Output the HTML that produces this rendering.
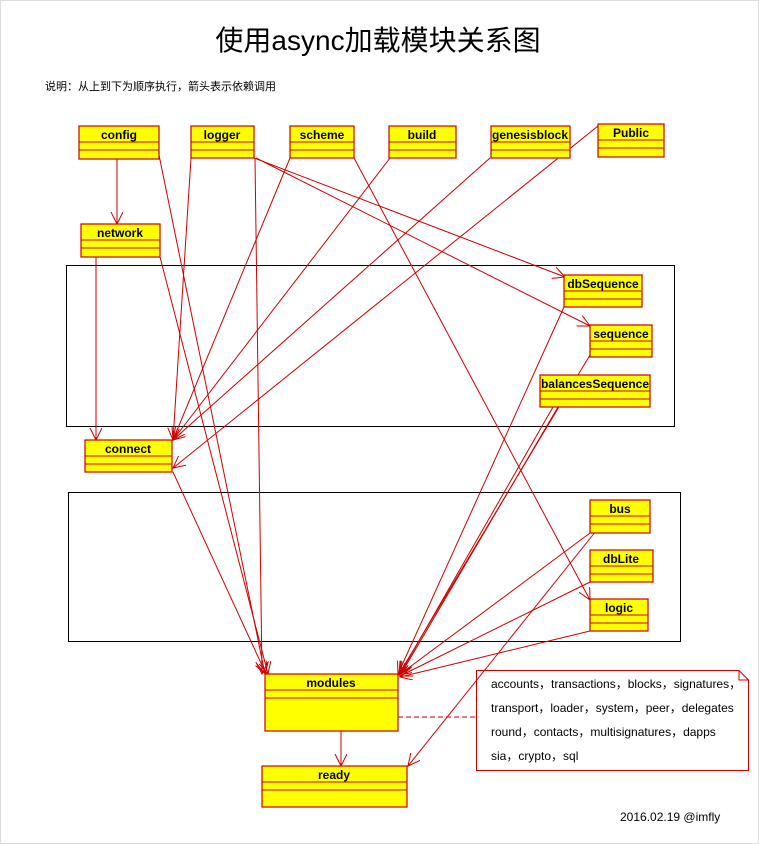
<!DOCTYPE html>
<html><head><meta charset="utf-8"><style>
html,body{margin:0;padding:0;background:#fff;}
svg{display:block;}
text{font-family:"Liberation Sans","Noto Sans CJK SC",sans-serif;}
.b{fill:#ffff00;stroke:#cc0000;stroke-width:1.2;}
.l{stroke:#cc0000;stroke-width:1;fill:none;}
.t{font-size:12px;font-weight:bold;text-anchor:middle;fill:#000;}
</style></head><body>
<svg width="759" height="844" viewBox="0 0 759 844" xmlns="http://www.w3.org/2000/svg">
<defs>
<marker id="a" markerWidth="14" markerHeight="14" refX="12" refY="6" orient="auto" markerUnits="userSpaceOnUse">
<path d="M0,0 L12,6 L0,12" fill="none" stroke="#cc0000" stroke-width="1"/>
</marker>
</defs>
<rect x="0.5" y="0.5" width="758" height="843" fill="#fff" stroke="#ddd"/>
<text x="378" y="50" font-size="28" text-anchor="middle" fill="#000">使用async加载模块关系图</text>
<text x="45" y="90" font-size="11" fill="#000">说明：从上到下为顺序执行，箭头表示依赖调用</text>

<rect x="66.5" y="265.5" width="608" height="161" fill="none" stroke="#000"/>
<rect x="68.5" y="492.5" width="612" height="149" fill="none" stroke="#000"/>

<path d="M476.5,670.5 H739 L748.5,680 V770.5 H476.5 Z" fill="#fff" stroke="#cc0000"/>
<path d="M739,670.5 V680 H748.5" fill="none" stroke="#cc0000"/>
<g font-size="12" fill="#000">
<text x="491" y="688">accounts，transactions，blocks，signatures，</text>
<text x="491" y="712">transport，loader，system，peer，delegates</text>
<text x="491" y="736">round，contacts，multisignatures，dapps</text>
<text x="491" y="760">sia，crypto，sql</text>
<text x="620" y="821">2016.02.19 @imfly</text>
</g>

<g class="l" marker-end="url(#a)">
<line x1="117" y1="159" x2="117" y2="224"/>
<line x1="96" y1="257" x2="96" y2="440"/>
<line x1="159" y1="155" x2="265" y2="674"/>
<line x1="160" y1="257" x2="268" y2="674"/>
<line x1="255" y1="158" x2="262" y2="674"/>
<line x1="173" y1="472" x2="266" y2="674"/>
<line x1="191" y1="158" x2="173" y2="440"/>
<line x1="290" y1="158" x2="173" y2="440"/>
<line x1="390" y1="158" x2="173" y2="440"/>
<line x1="490" y1="158" x2="173" y2="440"/>
<line x1="598" y1="126" x2="173" y2="468"/>
<line x1="254" y1="158" x2="565" y2="277"/>
<line x1="256" y1="158" x2="590" y2="326"/>
<line x1="354" y1="158" x2="590" y2="600"/>
<line x1="564" y1="307" x2="398" y2="674"/>
<line x1="590" y1="355" x2="399" y2="674"/>
<line x1="553" y1="407" x2="400" y2="674"/>
<line x1="558" y1="407" x2="401" y2="674"/>
<line x1="590" y1="533" x2="399" y2="675"/>
<line x1="596" y1="531" x2="408" y2="766"/>
<line x1="590" y1="582" x2="400" y2="676"/>
<line x1="590" y1="631" x2="400" y2="677"/>
<line x1="341" y1="731" x2="341" y2="766"/>
</g>
<line x1="398" y1="717" x2="476" y2="717" stroke="#cc0000" stroke-dasharray="5,3"/>

<g>
<rect class="b" x="79" y="126" width="80" height="33"/><line class="l" x1="79" y1="142" x2="159" y2="142"/><line class="l" x1="79" y1="150" x2="159" y2="150"/><text class="t" x="119" y="139">config</text>
<rect class="b" x="191" y="126" width="63" height="32"/><line class="l" x1="191" y1="142" x2="254" y2="142"/><line class="l" x1="191" y1="150" x2="254" y2="150"/><text class="t" x="222" y="139">logger</text>
<rect class="b" x="290" y="126" width="64" height="32"/><line class="l" x1="290" y1="142" x2="354" y2="142"/><line class="l" x1="290" y1="150" x2="354" y2="150"/><text class="t" x="322" y="139">scheme</text>
<rect class="b" x="389" y="126" width="67" height="32"/><line class="l" x1="389" y1="142" x2="456" y2="142"/><line class="l" x1="389" y1="150" x2="456" y2="150"/><text class="t" x="422" y="139">build</text>
<rect class="b" x="491" y="126" width="79" height="32"/><line class="l" x1="491" y1="142" x2="570" y2="142"/><line class="l" x1="491" y1="150" x2="570" y2="150"/><text class="t" x="530" y="139">genesisblock</text>
<rect class="b" x="598" y="124" width="66" height="33"/><line class="l" x1="598" y1="140" x2="664" y2="140"/><line class="l" x1="598" y1="148" x2="664" y2="148"/><text class="t" x="631" y="137">Public</text>
<rect class="b" x="81" y="224" width="79" height="33"/><line class="l" x1="81" y1="240" x2="160" y2="240"/><line class="l" x1="81" y1="248" x2="160" y2="248"/><text class="t" x="120" y="237">network</text>
<rect class="b" x="564" y="275" width="78" height="32"/><line class="l" x1="564" y1="291" x2="642" y2="291"/><line class="l" x1="564" y1="299" x2="642" y2="299"/><text class="t" x="603" y="288">dbSequence</text>
<rect class="b" x="590" y="325" width="62" height="32"/><line class="l" x1="590" y1="341" x2="652" y2="341"/><line class="l" x1="590" y1="349" x2="652" y2="349"/><text class="t" x="621" y="338">sequence</text>
<rect class="b" x="540" y="375" width="110" height="32"/><line class="l" x1="540" y1="391" x2="650" y2="391"/><line class="l" x1="540" y1="399" x2="650" y2="399"/><text class="t" x="595" y="388">balancesSequence</text>
<rect class="b" x="85" y="440" width="87" height="32"/><line class="l" x1="85" y1="456" x2="172" y2="456"/><line class="l" x1="85" y1="464" x2="172" y2="464"/><text class="t" x="128" y="453">connect</text>
<rect class="b" x="590" y="500" width="60" height="33"/><line class="l" x1="590" y1="516" x2="650" y2="516"/><line class="l" x1="590" y1="524" x2="650" y2="524"/><text class="t" x="620" y="513">bus</text>
<rect class="b" x="590" y="550" width="63" height="32"/><line class="l" x1="590" y1="566" x2="653" y2="566"/><line class="l" x1="590" y1="574" x2="653" y2="574"/><text class="t" x="621" y="563">dbLite</text>
<rect class="b" x="590" y="599" width="58" height="32"/><line class="l" x1="590" y1="615" x2="648" y2="615"/><line class="l" x1="590" y1="623" x2="648" y2="623"/><text class="t" x="619" y="612">logic</text>
<rect class="b" x="265" y="674" width="133" height="57"/><line class="l" x1="265" y1="690" x2="398" y2="690"/><line class="l" x1="265" y1="698" x2="398" y2="698"/><text class="t" x="331" y="687">modules</text>
<rect class="b" x="262" y="766" width="145" height="41"/><line class="l" x1="262" y1="782" x2="407" y2="782"/><line class="l" x1="262" y1="790" x2="407" y2="790"/><text class="t" x="334" y="779">ready</text>
</g>
</svg>
</body></html>
